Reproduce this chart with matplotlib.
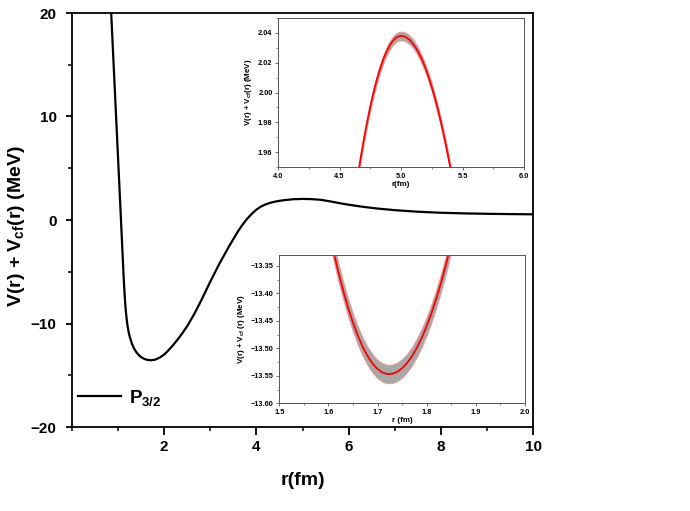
import matplotlib
matplotlib.use("Agg")
import matplotlib.pyplot as plt
from matplotlib.ticker import MultipleLocator, FormatStrFormatter, FuncFormatter
import numpy as np

plt.rcParams['font.family'] = ['Liberation Sans', 'DejaVu Sans']
plt.rcParams['mathtext.fontset'] = 'custom'
plt.rcParams['mathtext.rm'] = 'Liberation Sans:bold'
plt.rcParams['mathtext.it'] = 'Liberation Sans:bold'
plt.rcParams['mathtext.bf'] = 'Liberation Sans:bold'
plt.rcParams['mathtext.default'] = 'regular'

# ---- main curve (P3/2) ----
r_main = [0.85, 0.90, 0.95, 1.00, 1.05, 1.10, 1.12, 1.14, 1.16, 1.18, 1.20, 1.225,
          1.25, 1.30, 1.35, 1.40, 1.45, 1.50, 1.55, 1.60, 1.66, 1.72, 1.80, 1.90,
          2.00, 2.10, 2.20, 2.30, 2.40, 2.50, 2.65, 2.80, 3.00, 3.20, 3.40, 3.60,
          3.70, 3.80, 3.90, 4.00, 4.10, 4.20, 4.30, 4.40, 4.50, 4.60, 4.80, 5.00,
          5.20, 5.40, 5.60, 5.80, 6.00, 6.30, 6.60, 7.00, 7.50, 8.00, 8.50, 9.00,
          9.50, 10.0]
V_main = [20.0, 15.3, 10.6, 5.9, 1.2, -3.6, -5.5, -7.1, -8.4, -9.35, -10.1, -10.75,
          -11.25, -11.95, -12.45, -12.8, -13.05, -13.25, -13.38, -13.47, -13.53, -13.55, -13.5, -13.3,
          -13.0, -12.55, -12.05, -11.5, -10.9, -10.25, -9.1, -7.8, -5.95, -4.2, -2.6, -1.1,
          -0.45, 0.12, 0.6, 1.0, 1.3, 1.51, 1.66, 1.77, 1.85, 1.916, 2.008, 2.038,
          2.016, 1.95, 1.80, 1.63, 1.48, 1.28, 1.12, 0.95, 0.80, 0.70, 0.64, 0.60,
          0.57, 0.55]
legend_label = r'P$_{3/2}$'

# ---- inset 1 (barrier top) ----
r_in1 = [4.625, 4.650, 4.675, 4.700, 4.725, 4.750, 4.775, 4.800, 4.825, 4.850, 4.875,
         4.900, 4.925, 4.950, 4.975, 5.000, 5.025, 5.050, 5.075, 5.100, 5.125, 5.150,
         5.175, 5.200, 5.225, 5.250, 5.275, 5.300, 5.325, 5.350, 5.375, 5.400, 5.425]
V_in1 = [1.9310, 1.9448, 1.9576, 1.9695, 1.9804, 1.9904, 1.9995, 2.0076, 2.0147, 2.0209, 2.0261,
         2.0304, 2.0337, 2.0361, 2.0375, 2.0380, 2.0377, 2.0366, 2.0349, 2.0325, 2.0294, 2.0256,
         2.0212, 2.0160, 2.0102, 2.0036, 1.9964, 1.9885, 1.9799, 1.9706, 1.9607, 1.9500, 1.9387]
err_in1 = 0.003

# ---- inset 2 (well bottom) ----
r_in2 = [1.60, 1.61, 1.62, 1.63, 1.64, 1.65, 1.66, 1.67, 1.68, 1.69, 1.70, 1.71, 1.72,
         1.73, 1.74, 1.75, 1.76, 1.77, 1.78, 1.79, 1.80, 1.81, 1.82, 1.83, 1.84, 1.85, 1.86]
V_in2 = [-13.2807, -13.3223, -13.3603, -13.3948, -13.4258, -13.4532, -13.4771, -13.4976,
         -13.5145, -13.5278, -13.5377, -13.5440, -13.5468, -13.5463, -13.5427, -13.5362,
         -13.5267, -13.5143, -13.4989, -13.4806, -13.4593, -13.4350, -13.4077, -13.3776,
         -13.3444, -13.3083, -13.2692]
err_in2 = 0.017

fig = plt.figure(figsize=(6.9, 5.11), dpi=100)
ax = fig.add_axes([72/690, 1-427/511, 461/690, 414/511])
ax.plot(r_main, V_main, color='black', lw=1.6, label=legend_label)
ax.set_xlim(0, 10)
ax.set_ylim(-20, 20)
ax.set_xticks([2, 4, 6, 8, 10])
ax.xaxis.set_minor_locator(MultipleLocator(1))
ax.set_yticks([-20, -10, 0, 10, 20])
ax.yaxis.set_minor_locator(MultipleLocator(5))
for s in ax.spines.values():
    s.set_linewidth(1.3)
ax.tick_params(which='major', direction='out', width=1.3, labelsize=11)
ax.tick_params(axis='x', which='major', length=6, pad=3.5)
ax.tick_params(axis='y', which='major', length=4.5, pad=6.5)
ax.tick_params(which='minor', direction='out', length=2.8, width=1.1)
for lab in ax.get_xticklabels() + ax.get_yticklabels():
    lab.set_fontweight('bold')
ax.set_xlabel('r(fm)', fontsize=14, fontweight='bold', labelpad=13)
ax.set_ylabel(r'V(r) + V$_{cf}$(r) (MeV)', fontsize=14, fontweight='bold')
ax.yaxis.set_label_coords(-0.097, 0.486)
leg = ax.legend(loc='lower left', frameon=False, fontsize=13.5, handlelength=2.3,
                borderaxespad=0.0, bbox_to_anchor=(-0.004, 0.028), handletextpad=0.45)
for t in leg.get_texts():
    t.set_fontweight('bold')

def style_inset(a):
    for s in a.spines.values():
        s.set_linewidth(0.7)
        s.set_color('#555555')
    a.tick_params(which='major', direction='out', length=2.5, width=0.6, labelsize=5.3, pad=1.5, color='#555555')
    a.tick_params(which='minor', direction='out', length=1.5, width=0.5, color='#555555')
    for lab in a.get_xticklabels() + a.get_yticklabels():
        lab.set_fontweight('bold')

# inset 1
a1 = fig.add_axes([278/690, 1-167/511, 246/690, 149/511])
V1 = np.array(V_in1)
a1.fill_between(r_in1, V1 - err_in1, V1 + err_in1, facecolor='#a8a8a8', edgecolor='#ff9090', lw=0.5)
a1.plot(r_in1, V_in1, color='red', lw=1.3)
a1.set_xlim(4.0, 6.0)
a1.set_ylim(1.95, 2.05)
a1.set_xticks([4.0, 4.5, 5.0, 5.5, 6.0])
a1.xaxis.set_minor_locator(MultipleLocator(0.25))
a1.set_yticks([1.96, 1.98, 2.00, 2.02, 2.04])
a1.yaxis.set_minor_locator(MultipleLocator(0.01))
a1.xaxis.set_major_formatter(FormatStrFormatter('%.1f'))
a1.yaxis.set_major_formatter(FormatStrFormatter('%.2f'))
style_inset(a1)
a1.set_xlabel('r(fm)', fontsize=5.8, fontweight='bold', labelpad=1)
a1.set_ylabel(r'V(r) + V$_{cf}$(r) (MeV)', fontsize=5.8, fontweight='bold', labelpad=3)

# inset 2
a2 = fig.add_axes([279.3/690, 1-403.3/511, 245.7/690, 148.3/511])
V2 = np.array(V_in2)
a2.fill_between(r_in2, V2 - err_in2, V2 + err_in2, facecolor='#a8a8a8', edgecolor='#ff9090', lw=0.5)
a2.plot(r_in2, V_in2, color='red', lw=1.3)
a2.set_xlim(1.5, 2.0)
a2.set_ylim(-13.60, -13.33)
a2.set_xticks([1.5, 1.6, 1.7, 1.8, 1.9, 2.0])
a2.xaxis.set_minor_locator(MultipleLocator(0.05))
a2.set_yticks([-13.60, -13.55, -13.50, -13.45, -13.40, -13.35])
a2.yaxis.set_minor_locator(MultipleLocator(0.025))
a2.xaxis.set_major_formatter(FormatStrFormatter('%.1f'))
a2.yaxis.set_major_formatter(FuncFormatter(lambda v, p: ('%.2f' % v).replace('-', '\u2212')))
style_inset(a2)
a2.set_xlabel('r (fm)', fontsize=5.8, fontweight='bold', labelpad=1)
a2.set_ylabel(r'V(r) + V$_{cf}$ (r) (MeV)', fontsize=5.8, fontweight='bold', labelpad=3)

fig.savefig('out.png', dpi=100)
